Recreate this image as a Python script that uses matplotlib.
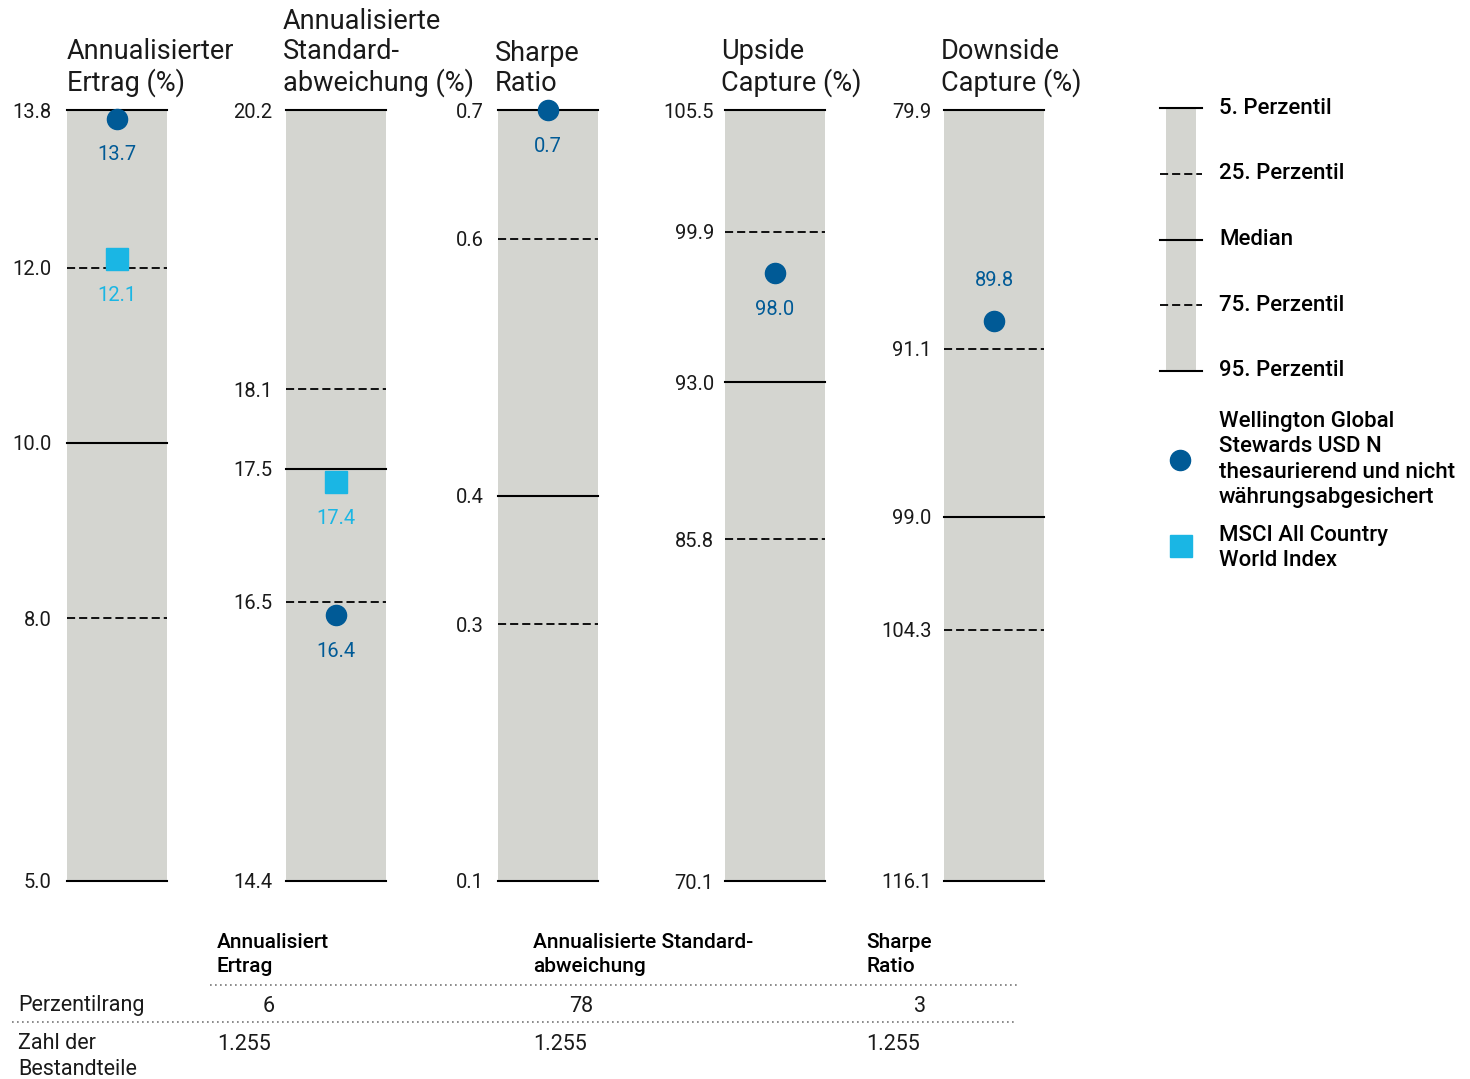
import matplotlib
matplotlib.use("Agg")
import matplotlib.pyplot as plt
from matplotlib.lines import Line2D

plt.rcParams['font.family'] = ['Roboto', 'DejaVu Sans']

W, H = 1470, 1079

# ---- data ----
titles = ["Annualisierter\nErtrag (%)",
          "Annualisierte\nStandard-\nabweichung (%)",
          "Sharpe\nRatio",
          "Upside\nCapture (%)",
          "Downside\nCapture (%)"]
p05 = [13.8, 20.2, 0.7, 105.5, 79.9]
p25 = [12.0, 18.1, 0.6, 99.9, 91.1]
p50 = [10.0, 17.5, 0.4, 93.0, 99.0]
p75 = [8.0, 16.5, 0.3, 85.8, 104.3]
p95 = [5.0, 14.4, 0.1, 70.1, 116.1]
fund = [13.7, 16.4, 0.7, 98.0, 89.8]
index = [12.1, 17.4, None, None, None]
fund_label_above = [False, False, False, False, True]

fund_name = "Wellington Global\nStewards USD N\nthesaurierend und nicht\nwährungsabgesichert"
index_name = "MSCI All Country\nWorld Index"
legend_labels = ["5. Perzentil", "25. Perzentil", "Median", "75. Perzentil", "95. Perzentil"]

table_heads = ["Annualisiert\nErtrag", "Annualisierte Standard-\nabweichung", "Sharpe\nRatio"]
rank = [6, 78, 3]
n_const = [1255, 1255, 1255]

FUND_C = "#005a96"
INDEX_C = "#1ab6e4"
GREY = "#d4d5d0"
TXT = "#1a1a1a"

# layout in pixels
bar_left = [67, 286, 498, 725, 944]
title_left = [67, 283, 495, 721, 941]
tick_pad = [11, 10, 10, 8, 9]
bar_w = 100
bar_top, bar_bot = 110, 881


def fx(x):
    return x / W


def fy(y):
    return 1 - y / H


fig = plt.figure(figsize=(W / 100, H / 100), dpi=100)

for i in range(5):
    ax = fig.add_axes([fx(bar_left[i]), fy(bar_bot), bar_w / W, (bar_bot - bar_top) / H])
    ax.set_facecolor(GREY)
    ax.set_xlim(0, 1)
    # 5th percentile always on top (downside capture scale runs the other way)
    ax.set_ylim(p95[i], p05[i])
    for v, ls in zip([p05[i], p25[i], p50[i], p75[i], p95[i]],
                     ['-', '--', '-', '--', '-']):
        if ls == '-':
            ax.axhline(v, color='black', lw=1.5, clip_on=False, zorder=2)
        else:
            ax.axhline(v, color='black', lw=1.3, dashes=(4.5, 2.2), clip_on=False, zorder=2)
    for s in ax.spines.values():
        s.set_visible(False)
    ax.set_xticks([])
    ticks = [p05[i], p25[i], p50[i], p75[i], p95[i]]
    ax.set_yticks(ticks)
    ax.set_yticklabels([f"{t:.1f}" for t in ticks])
    ax.tick_params(axis='y', length=0, pad=tick_pad[i], labelsize=14.5, labelcolor=TXT)

    # fund marker
    ax.plot(0.5, fund[i], 'o', ms=14.5, color=FUND_C, clip_on=False, zorder=4)
    off = 29 if fund_label_above[i] else -26
    ax.annotate(f"{fund[i]:.1f}", (0.5, fund[i]), xytext=(0, off), textcoords='offset points',
                ha='center', va='center', fontsize=14.5, color=FUND_C)
    if index[i] is not None:
        ax.plot(0.5, index[i], 's', ms=15.5, color=INDEX_C, clip_on=False, zorder=4)
        ax.annotate(f"{index[i]:.1f}", (0.5, index[i]), xytext=(0, -26), textcoords='offset points',
                    ha='center', va='center', fontsize=14.5, color=INDEX_C)

    fig.text(fx(title_left[i]), fy(97), titles[i], ha='left', va='bottom',
             fontsize=19.5, linespacing=1.14, color=TXT)

# ---- legend ----
lax = fig.add_axes([fx(1166), fy(371), 30 / W, (371 - 108) / H])
lax.set_facecolor(GREY)
lax.set_xlim(0, 1)
lax.set_ylim(4, 0)
for s in lax.spines.values():
    s.set_visible(False)
lax.set_xticks([])
lax.set_yticks([])
for k, lab in enumerate(legend_labels):
    if k % 2 == 0:
        lax.plot([-0.2, 1.2], [k, k], color='black', lw=1.5, clip_on=False)
    else:
        lax.plot([-0.2, 1.2], [k, k], color='black', lw=1.3, dashes=(4.5, 2.2), clip_on=False)
    lax.text(1.77, k, lab, ha='left', va='center', fontsize=16, fontweight='medium')

fig.add_artist(Line2D([fx(1180)], [fy(460)], marker='o', ms=14.5, color=FUND_C, ls='none'))
fig.text(fx(1219), fy(411), fund_name, ha='left', va='top', fontsize=16,
         fontweight='medium', linespacing=1.27)
fig.add_artist(Line2D([fx(1181)], [fy(546)], marker='s', ms=15.5, color=INDEX_C, ls='none'))
fig.text(fx(1219), fy(525), index_name, ha='left', va='top', fontsize=16,
         fontweight='medium', linespacing=1.27)

# ---- table ----
head_x = [217, 533, 866]
rank_right = [275, 593, 926]
for j in range(3):
    fig.text(fx(head_x[j]), fy(933), table_heads[j], ha='left', va='top',
             fontsize=15, fontweight='medium', linespacing=1.36)
    fig.text(fx(rank_right[j]), fy(1006), str(rank[j]), ha='right', va='center',
             fontsize=15.5, color=TXT)
    fig.text(fx(head_x[j]), fy(1044), f"{n_const[j]:,}".replace(',', '.'), ha='left',
             va='center', fontsize=15.5, color=TXT)

fig.text(fx(18), fy(1005), "Perzentilrang", ha='left', va='center', fontsize=15.5,
         color=TXT)
fig.text(fx(18), fy(1033), "Zahl der\nBestandteile", ha='left', va='top', fontsize=15.5,
         linespacing=1.33, color=TXT)

fig.add_artist(Line2D([fx(210), fx(1020)], [fy(985), fy(985)], color='#777777',
                      lw=1.2, dashes=(1, 2)))
fig.add_artist(Line2D([fx(12), fx(1015)], [fy(1022), fy(1022)], color='#777777',
                      lw=1.2, dashes=(1, 2)))

fig.savefig("out.png", dpi=100)
